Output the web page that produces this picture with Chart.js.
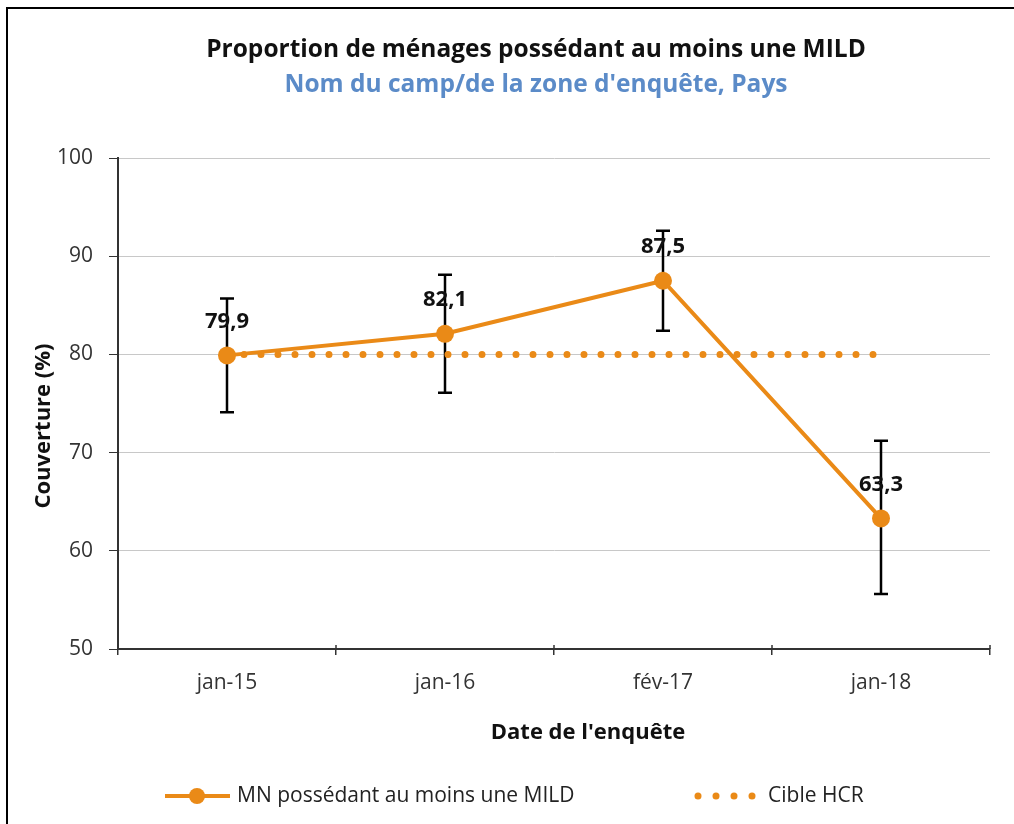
<!DOCTYPE html>
<html>
<head>
<meta charset="utf-8">
<script src="https://cdn.jsdelivr.net/npm/chart.js@4/dist/chart.umd.min.js"></script>
<style>
  html, body { margin: 0; padding: 0; background: #fff; }
  #wrap { position: relative; width: 1014px; height: 824px; overflow: hidden; }
  #frame { position: absolute; left: 6px; top: 7px; width: 1100px; height: 900px;
           border-top: 2px solid #000; border-left: 2px solid #000; }
  canvas { position: absolute; left: 0; top: 0; }
</style>
</head>
<body>
<div id="wrap">
  <div id="frame"></div>
  <canvas id="c" width="1014" height="824"></canvas>
</div>
<script>
const categories = ['jan-15', 'jan-16', 'fév-17', 'jan-18'];
const coverage = [79.9, 82.1, 87.5, 63.3];
const upperCI = [85.7, 88.1, 92.6, 71.2];
const lowerCI = [74.1, 76.1, 82.4, 55.6];
const target = [80, 80, 80, 80];
const yTicks = [50, 60, 70, 80, 90, 100];

const seriesName = 'MN possédant au moins une MILD';
const targetName = 'Cible HCR';
const titleText = 'Proportion de ménages possédant au moins une MILD';
const subtitleText = "Nom du camp/de la zone d'enquête, Pays";
const xTitle = "Date de l'enquête";
const yTitle = 'Couverture (%)';

const ORANGE = '#EA8A17';
const FONT = '"Open Sans", "DejaVu Sans", sans-serif';

const fmt = v => String(v).replace('.', ',');

const extras = {
  id: 'extras',
  beforeDatasetsDraw(chart) {
    const {ctx, scales: {x, y}} = chart;
    ctx.save();
    ctx.strokeStyle = '#000';
    ctx.lineWidth = 2.5;
    ctx.lineCap = 'butt';
    for (let i = 0; i < categories.length; i++) {
      const px = x.getPixelForValue(i);
      const yt = y.getPixelForValue(upperCI[i]);
      const yb = y.getPixelForValue(lowerCI[i]);
      ctx.beginPath();
      ctx.moveTo(px, yt); ctx.lineTo(px, yb);
      ctx.moveTo(px - 7, yt); ctx.lineTo(px + 7, yt);
      ctx.moveTo(px - 7, yb); ctx.lineTo(px + 7, yb);
      ctx.stroke();
    }
    ctx.restore();
  },
  afterDraw(chart) {
    const {ctx, chartArea} = chart;
    ctx.save();
    // x tick marks crossing the axis upward too
    ctx.strokeStyle = '#333';
    ctx.lineWidth = 1.5;
    for (let i = 0; i <= categories.length; i++) {
      const px = chartArea.left + (chartArea.right - chartArea.left) * i / categories.length;
      ctx.beginPath(); ctx.moveTo(px, chartArea.bottom - 4); ctx.lineTo(px, chartArea.bottom); ctx.stroke();
    }
    // data labels
    const meta = chart.getDatasetMeta(0);
    ctx.font = 'bold 22px ' + FONT;
    ctx.fillStyle = '#111';
    ctx.textAlign = 'center';
    ctx.textBaseline = 'middle';
    meta.data.forEach((pt, i) => {
      ctx.fillText(fmt(coverage[i]), pt.x, pt.y - 34);
    });
    // axis titles
    ctx.fillText(xTitle, 588, 733);
    ctx.save();
    ctx.translate(44, 426);
    ctx.rotate(-Math.PI / 2);
    ctx.fillText(yTitle, 0, 0);
    ctx.restore();
    // title and subtitle
    ctx.font = 'bold 24.5px ' + FONT;
    ctx.fillStyle = '#111';
    ctx.fillText(titleText, 536, 50);
    ctx.fillStyle = '#5B8BC8';
    ctx.fillText(subtitleText, 536, 85);
    // legend
    const ly = 796;
    ctx.strokeStyle = ORANGE;
    ctx.lineWidth = 4;
    ctx.beginPath(); ctx.moveTo(165, ly); ctx.lineTo(230, ly); ctx.stroke();
    ctx.fillStyle = ORANGE;
    ctx.beginPath(); ctx.arc(197, ly, 8, 0, Math.PI * 2); ctx.fill();
    [698, 716, 734, 752].forEach(dx => {
      ctx.beginPath(); ctx.arc(dx, ly, 3.5, 0, Math.PI * 2); ctx.fill();
    });
    ctx.font = '21px ' + FONT;
    ctx.fillStyle = '#222';
    ctx.textAlign = 'left';
    ctx.fillText(seriesName, 237, ly);
    ctx.fillText(targetName, 768, ly);
    ctx.restore();
  }
};

new Chart(document.getElementById('c'), {
  type: 'line',
  data: {
    labels: categories,
    datasets: [
      {
        label: seriesName,
        data: coverage,
        borderColor: ORANGE,
        backgroundColor: ORANGE,
        borderWidth: 4,
        pointRadius: 9,
        pointHoverRadius: 9,
        pointBackgroundColor: ORANGE,
        pointBorderWidth: 0,
        tension: 0,
        order: 0
      },
      {
        label: targetName,
        data: target,
        borderColor: ORANGE,
        borderWidth: 7,
        borderDash: [0, 17],
        borderCapStyle: 'round',
        pointRadius: 0,
        tension: 0,
        order: 1
      }
    ]
  },
  options: {
    responsive: false,
    animation: false,
    devicePixelRatio: 1,
    layout: { padding: { top: 158, right: 24, left: 0, bottom: 0 } },
    plugins: {
      legend: { display: false },
      title: { display: false },
      tooltip: { enabled: false }
    },
    scales: {
      x: {
        type: 'category',
        offset: true,
        grid: { drawOnChartArea: false, offset: true, tickLength: 6, tickColor: '#333', lineWidth: 1.5 },
        border: { color: '#333', width: 2 },
        ticks: { color: '#333', font: { family: FONT, size: 21 }, padding: 15, maxRotation: 0 },
        title: { display: false },
        afterFit(scale) { scale.height = 175; }
      },
      y: {
        min: 50, max: 100,
        afterBuildTicks(scale) { scale.ticks = yTicks.map(v => ({ value: v })); },
        grid: { color: '#c8c8c8', lineWidth: 1, tickColor: '#333', tickLength: 9 },
        border: { color: '#333', width: 2 },
        ticks: { color: '#333', font: { family: FONT, size: 21 }, padding: 16 },
        title: { display: false },
        afterFit(scale) { scale.width = 118; }
      }
    }
  },
  plugins: [extras]
});
</script>
</body>
</html>
